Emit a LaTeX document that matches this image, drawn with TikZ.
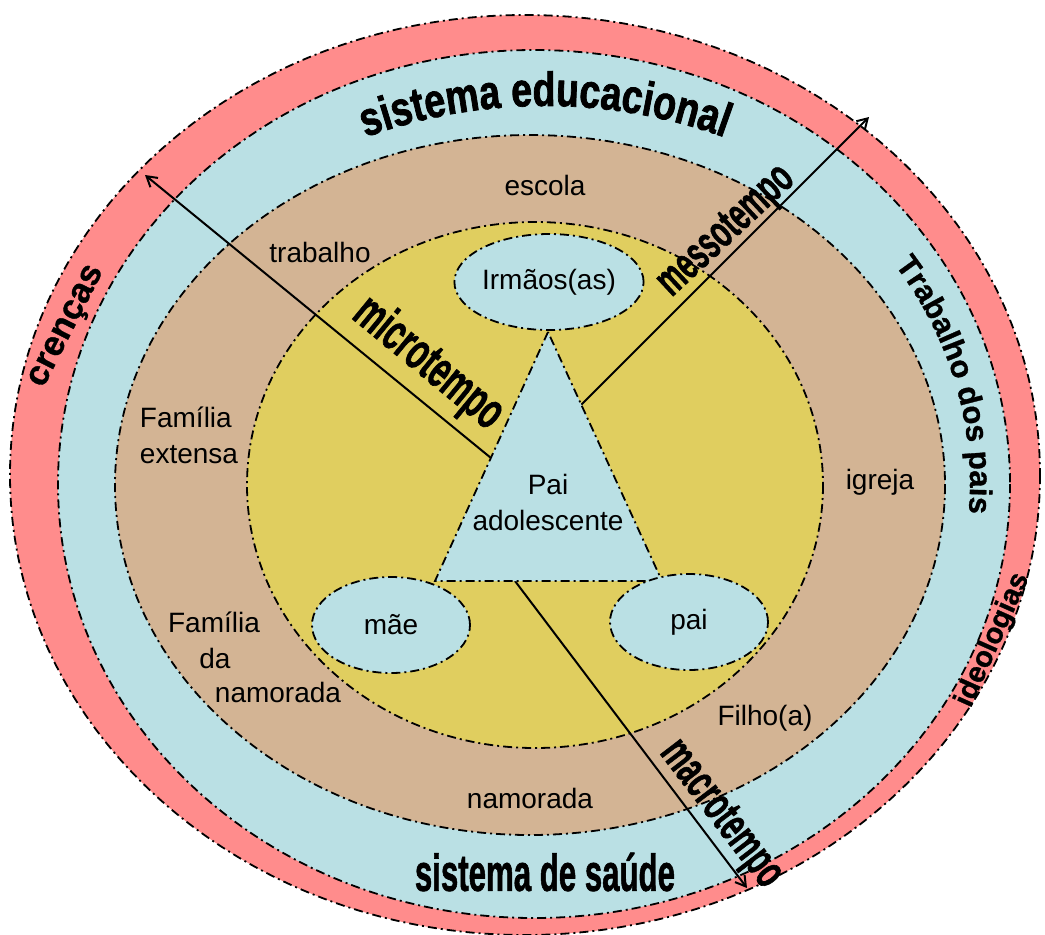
\documentclass[tikz,border=0pt]{standalone}
\usepackage{fontspec}
\setmainfont{Liberation Sans}
\newfontfamily\condB{Liberation Sans}[FakeStretch=0.78, FakeBold=1.5]
\newfontfamily\heavy{Liberation Sans}[FakeBold=1]
\newfontfamily\heavier{Liberation Sans}[FakeBold=1.5]
\usetikzlibrary{shapes.geometric,decorations.text,arrows.meta}
\definecolor{redband}{RGB}{255,140,140}
\definecolor{blueband}{RGB}{186,224,228}
\definecolor{tanband}{RGB}{211,180,148}
\definecolor{yellowband}{RGB}{224,206,95}
\newcommand{\narrowtxt}[2]{\scalebox{0.6}[1]{\heavier\bfseries\fontsize{#1}{#1}\selectfont #2}}
\begin{document}
\begin{tikzpicture}[x=0.5pt,y=-0.5pt,
  ring/.style={draw=black, line width=0.9pt, dash pattern=on 4.5pt off 2pt on 1pt off 2pt},
  bubble/.style={ellipse, ring, fill=blueband, minimum width=79pt, minimum height=48pt, inner sep=0pt, font=\fontsize{14}{16}\selectfont},
  lbl/.style={font=\fontsize{14}{18}\selectfont, align=center, inner sep=0pt},
  timetxt/.style={inner sep=0pt},
  axis/.style={line width=1pt, -{Straight Barb[length=5pt,width=6pt]}}
]
\useasboundingbox (0,0) rectangle (1045,934);
% rings
\draw[ring, fill=redband] (525,475) ellipse [x radius=515, y radius=460];
\draw[ring, fill=blueband] (534,484) ellipse [x radius=476, y radius=434];
\draw[ring, fill=tanband] (530,485) ellipse [x radius=415, y radius=350];
\draw[ring, fill=yellowband] (535,485) ellipse [x radius=288, y radius=263];
% coordinates
\coordinate (apex) at (548,332);
\coordinate (bl) at (435,581);
\coordinate (br) at (662,581);
\coordinate (microS) at (491,458);
\coordinate (microE) at (145,175);
\coordinate (mesoS) at (581,405);
\coordinate (mesoE) at (869,117);
\coordinate (macroS) at (515,581);
\coordinate (macroE) at (747,888);
% axes
\draw[axis] (microS) -- (microE);
\draw[axis] (mesoS) -- (mesoE);
\draw[axis] (macroS) -- (macroE);
% triangle
\draw[ring, fill=blueband] (apex) -- (bl) -- (br) -- cycle;
\node[lbl] (pai adol) at (548,502) {Pai\\adolescente};
% bubbles
\node[bubble] (irmaos) at (549,282) {Irmãos(as)};
\node[bubble] (mae) at (391,625) {mãe};
\node[bubble] (pai) at (689,622) {pai};
% labels
\node[lbl] (escola) at (545,185) {escola};
\node[lbl] (trabalho) at (320,252) {trabalho};
\node[lbl, align=left] (famext) at (189,435) {Família\\extensa};
\node[lbl] (igreja) at (880,482) {igreja};
\node[lbl] (famnam1) at (214,622) {Família};
\node[lbl] (famnam2) at (215,658) {da};
\node[lbl] (famnam3) at (278,692) {namorada};
\node[lbl] (filho) at (765,718) {Filho(a)};
\node[lbl] (namorada) at (530,798) {namorada};
% time labels
\node[timetxt, rotate=-39.5] (microtxt) at (428,364) {\narrowtxt{26}{microtempo}};
\node[timetxt, rotate=43] (mesotxt) at (727,232) {\narrowtxt{23}{messotempo}};
\node[timetxt, rotate=-52.6] (macrotxt) at (720,815) {\narrowtxt{24}{macrotempo}};
% outer labels
\node[font=\heavy\bfseries\fontsize{17.5}{20}\selectfont, inner sep=0pt, rotate=63] (crencas) at (68,327) {crenças};
\node[font=\heavy\bfseries\fontsize{14.5}{17}\selectfont, inner sep=0pt, rotate=66] (ideologias) at (993,640) {ideologias};
\node[timetxt] (saude) at (545,872) {\narrowtxt{26}{sistema de saúde}};
% curved labels
\path[decorate, decoration={text along path, text align=center, text={|\condB\bfseries\fontsize{24}{26}\selectfont|sistema educacional}}]
  ([shift={(545,484)}]200:450 and 378) arc[start angle=200, end angle=340, x radius=450, y radius=378];
\path[decorate, decoration={text along path, text align=left, text={|\heavy\bfseries\fontsize{15.5}{17}\selectfont|Trabalho dos pais}}]
  ([shift={(530,484)}]-34:440 and 392) arc[start angle=-34, end angle=12, x radius=440, y radius=392];
\end{tikzpicture}
\end{document}
